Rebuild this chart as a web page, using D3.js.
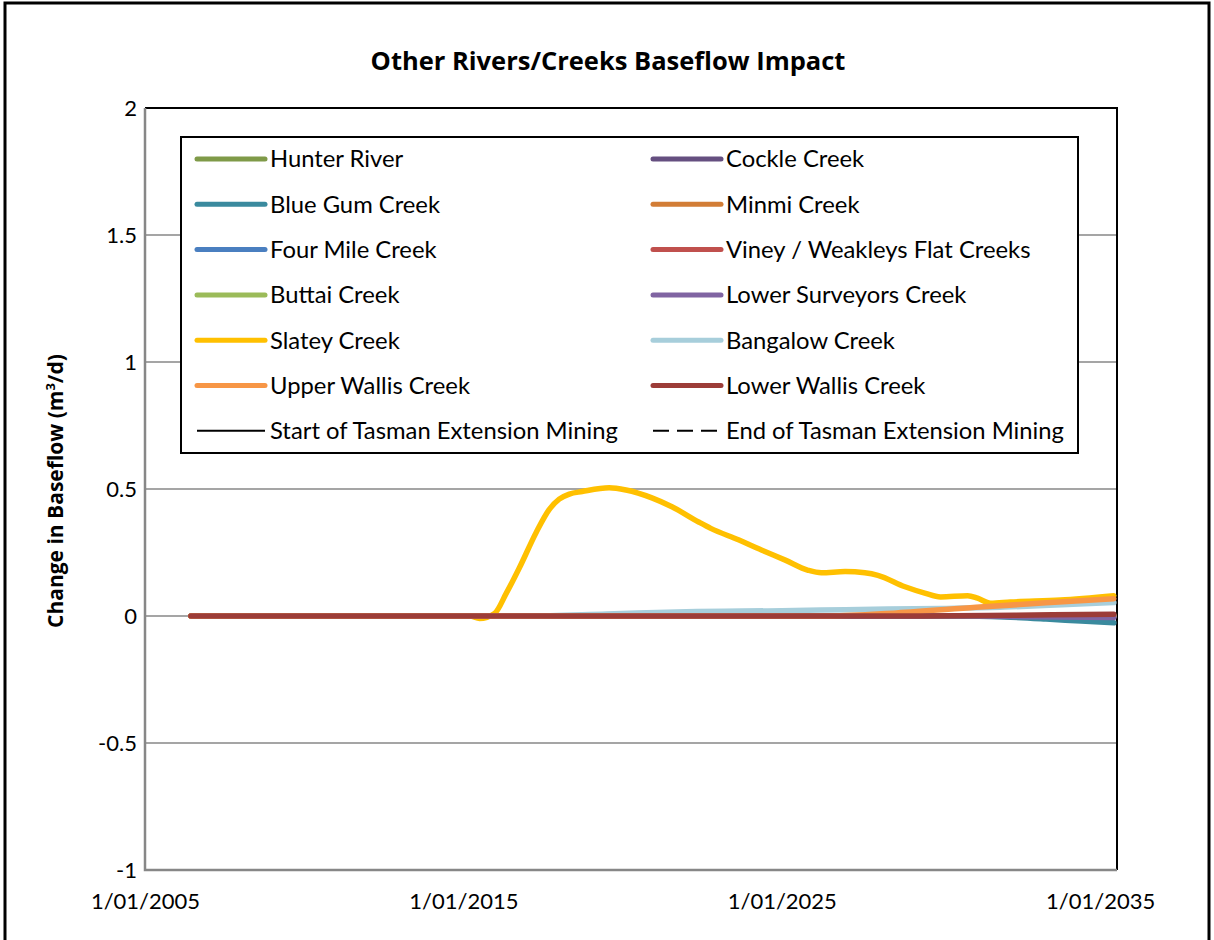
<!DOCTYPE html>
<html>
<head>
  <meta http-equiv="Content-Type" content="text/html;charset=utf-8" />
  <style type="text/css">
    body { margin: 0; background: #fff; }
    text { font-family: Lato, "Open Sans", sans-serif; fill: #000; }
    .bold { font-family: "Open Sans", Lato, sans-serif; font-weight: bold; }
  </style>
</head>
<body>
  <div id="svgContainer"></div>
  <script src="https://cdnjs.cloudflare.com/ajax/libs/d3/7.8.5/d3.min.js"></script>
  <script type="text/javascript">
    // ---- data (decimal year, change in baseflow m3/d) ----
    var yTicks = [-1, -0.5, 0, 0.5, 1, 1.5, 2];
    var xTickYears = [2005, 2015, 2025, 2035];

    var flatLine = [[2006.44, 0], [2020, 0], [2035.43, 0]];
    var hunterRiver = flatLine;
    var cockleCreek = flatLine;
    var minmiCreek = flatLine;
    var fourMileCreek = flatLine;
    var vineyCreeks = flatLine;
    var buttaiCreek = flatLine;
    var blueGumCreek = [[2006.44, 0], [2020, 0], [2030.5, 0], [2032, -0.004], [2033.3, -0.012], [2034.4, -0.02], [2035.43, -0.027]];
    var lowerSurveyorsCreek = [[2006.44, 0], [2020, 0], [2031, 0], [2033, -0.003], [2035.43, -0.006]];
    var slateyCreek = [
      [2006.44, 0], [2012, 0], [2015.2, 0], [2015.51, -0.01], [2015.98, 0.01], [2016.35, 0.09],
      [2016.76, 0.19], [2017.29, 0.33], [2017.7, 0.42], [2018.01, 0.46], [2018.33, 0.48],
      [2018.73, 0.49], [2019.58, 0.505], [2020.11, 0.496], [2020.92, 0.465], [2021.55, 0.43],
      [2022.39, 0.37], [2022.77, 0.345], [2023.64, 0.3], [2024.36, 0.26], [2025.11, 0.22],
      [2025.83, 0.18], [2026.24, 0.17], [2026.99, 0.175], [2027.61, 0.17], [2028.02, 0.16],
      [2028.87, 0.115], [2029.49, 0.09], [2029.99, 0.075], [2030.84, 0.08], [2031.15, 0.07],
      [2031.56, 0.05], [2032.18, 0.055], [2033.75, 0.063], [2035.43, 0.08]
    ];
    var bangalowCreek = [[2006.44, 0], [2017, 0], [2019.5, 0.008], [2022, 0.017], [2025, 0.021], [2027, 0.025], [2030, 0.03], [2032, 0.035], [2033.8, 0.044], [2035.43, 0.053]];
    var upperWallisCreek = [[2006.44, 0], [2026.5, 0], [2028.6, 0.012], [2031.1, 0.034], [2033.3, 0.052], [2035.43, 0.068]];
    var lowerWallisCreek = [[2006.44, 0], [2029, 0], [2031.5, 0.002], [2033.5, 0.005], [2035.43, 0.007]];

    var seriesNames = ["Hunter River", "Cockle Creek", "Blue Gum Creek", "Minmi Creek", "Four Mile Creek",
      "Viney / Weakleys Flat Creeks", "Buttai Creek", "Lower Surveyors Creek", "Slatey Creek",
      "Bangalow Creek", "Upper Wallis Creek", "Lower Wallis Creek"];
    var seriesData = [hunterRiver, cockleCreek, blueGumCreek, minmiCreek, fourMileCreek, vineyCreeks,
      buttaiCreek, lowerSurveyorsCreek, slateyCreek, bangalowCreek, upperWallisCreek, lowerWallisCreek];
    var seriesColors = ["#7f9a48", "#654f80", "#3a8a9e", "#d27d36", "#4a7fc0", "#c0504d",
      "#9bbb59", "#8064a2", "#ffc000", "#a7cedb", "#f79646", "#9c3c38"];

    // ---- layout ----
    var w = 1214, h = 940;
    var plot = { left: 145, top: 108, right: 1117, bottom: 870 };

    var svg = d3.select("#svgContainer")
      .append("svg")
      .attr("width", w)
      .attr("height", h);

    // outer chart border
    svg.append("rect")
      .attr("x", 5).attr("y", 3).attr("width", w - 10).attr("height", h + 20)
      .attr("fill", "#fff").attr("stroke", "#000").attr("stroke-width", 3);

    function toDate(yr) {
      var y = Math.floor(yr);
      var start = Date.UTC(y, 0, 1), end = Date.UTC(y + 1, 0, 1);
      return new Date(start + (yr - y) * (end - start));
    }

    var x = d3.scaleUtc()
      .domain([toDate(2005), toDate(2035.53)])
      .range([plot.left, plot.right]);
    var y = d3.scaleLinear().domain([-1, 2]).range([plot.bottom, plot.top]);

    // gridlines
    svg.append("g")
      .selectAll("line")
      .data(yTicks.filter(function (d) { return d > -1 && d < 2; }))
      .join("line")
      .attr("x1", plot.left).attr("x2", plot.right)
      .attr("y1", function (d) { return y(d); })
      .attr("y2", function (d) { return y(d); })
      .attr("stroke", "#878787").attr("stroke-width", 1.5);

    // plot border
    svg.append("path")
      .attr("d", "M" + plot.left + "," + plot.top + "H" + plot.right + "V" + plot.bottom)
      .attr("fill", "none").attr("stroke", "#000").attr("stroke-width", 2);
    svg.append("path")
      .attr("d", "M" + plot.left + "," + plot.top + "V" + plot.bottom + "H" + plot.right)
      .attr("fill", "none").attr("stroke", "#878787").attr("stroke-width", 2.5);

    // y axis labels
    var yAxis = d3.axisLeft(y).tickValues(yTicks).tickSize(0).tickPadding(8)
      .tickFormat(function (d) { return String(d); });
    var gy = svg.append("g").attr("transform", "translate(" + plot.left + ",0)").call(yAxis);
    gy.select(".domain").remove();
    gy.selectAll("text").style("font-size", "22px").attr("font-family", null);

    // x axis labels
    var xAxis = d3.axisBottom(x)
      .tickValues(xTickYears.map(function (d) { return toDate(d); }))
      .tickSize(0).tickPadding(23)
      .tickFormat(d3.utcFormat("1/01/%Y"));
    var gx = svg.append("g").attr("transform", "translate(0," + plot.bottom + ")").call(xAxis);
    gx.select(".domain").remove();
    gx.selectAll("text").style("font-size", "22px").attr("font-family", null);

    // series
    var line = d3.line()
      .x(function (d) { return x(toDate(d[0])); })
      .y(function (d) { return y(d[1]); })
      .curve(d3.curveMonotoneX);

    svg.append("g")
      .selectAll("path")
      .data(seriesData)
      .join("path")
      .attr("d", function (d) { return line(d); })
      .attr("fill", "none")
      .attr("stroke", function (d, i) { return seriesColors[i]; })
      .attr("stroke-width", 5.5)
      .attr("stroke-linecap", "round")
      .attr("stroke-linejoin", "round");

    // title
    svg.append("text")
      .attr("class", "bold")
      .attr("x", 608).attr("y", 70)
      .attr("text-anchor", "middle")
      .style("font-size", "25.5px")
      .text("Other Rivers/Creeks Baseflow Impact");

    // y title
    var yt = svg.append("text")
      .attr("class", "bold")
      .attr("transform", "translate(63,491) rotate(-90)")
      .attr("text-anchor", "middle")
      .style("font-size", "21px");
    yt.append("tspan").text("Change in Baseflow (m");
    yt.append("tspan").attr("dy", -8).style("font-size", "13px").text("3");
    yt.append("tspan").attr("dy", 8).text("/d)");

    // legend
    var legend = svg.append("g");
    legend.append("rect")
      .attr("x", 181).attr("y", 137).attr("width", 897).attr("height", 316)
      .attr("fill", "#fff").attr("stroke", "#000").attr("stroke-width", 2);

    var legendItems = seriesNames.map(function (n, i) {
      return { name: n, color: seriesColors[i], width: 5, dash: null };
    });
    legendItems.push({ name: "Start of Tasman Extension Mining", color: "#000", width: 2, dash: null });
    legendItems.push({ name: "End of Tasman Extension Mining", color: "#000", width: 2, dash: "16 8" });

    var li = legend.selectAll("g.item")
      .data(legendItems)
      .join("g")
      .attr("class", "item")
      .attr("transform", function (d, i) {
        var col = i % 2, row = Math.floor(i / 2);
        return "translate(" + (col ? 653 : 197) + "," + (159 + row * 45.3) + ")";
      });
    li.append("line")
      .attr("x1", 0).attr("x2", 68)
      .attr("stroke", function (d) { return d.color; })
      .attr("stroke-width", function (d) { return d.width; })
      .attr("stroke-dasharray", function (d) { return d.dash; })
      .attr("stroke-linecap", function (d) { return d.width > 2 ? "round" : "butt"; });
    li.append("text")
      .attr("x", 73).attr("dy", "0.35em")
      .style("font-size", "23.8px")
      .text(function (d) { return d.name; });
  </script>
</body>
</html>
